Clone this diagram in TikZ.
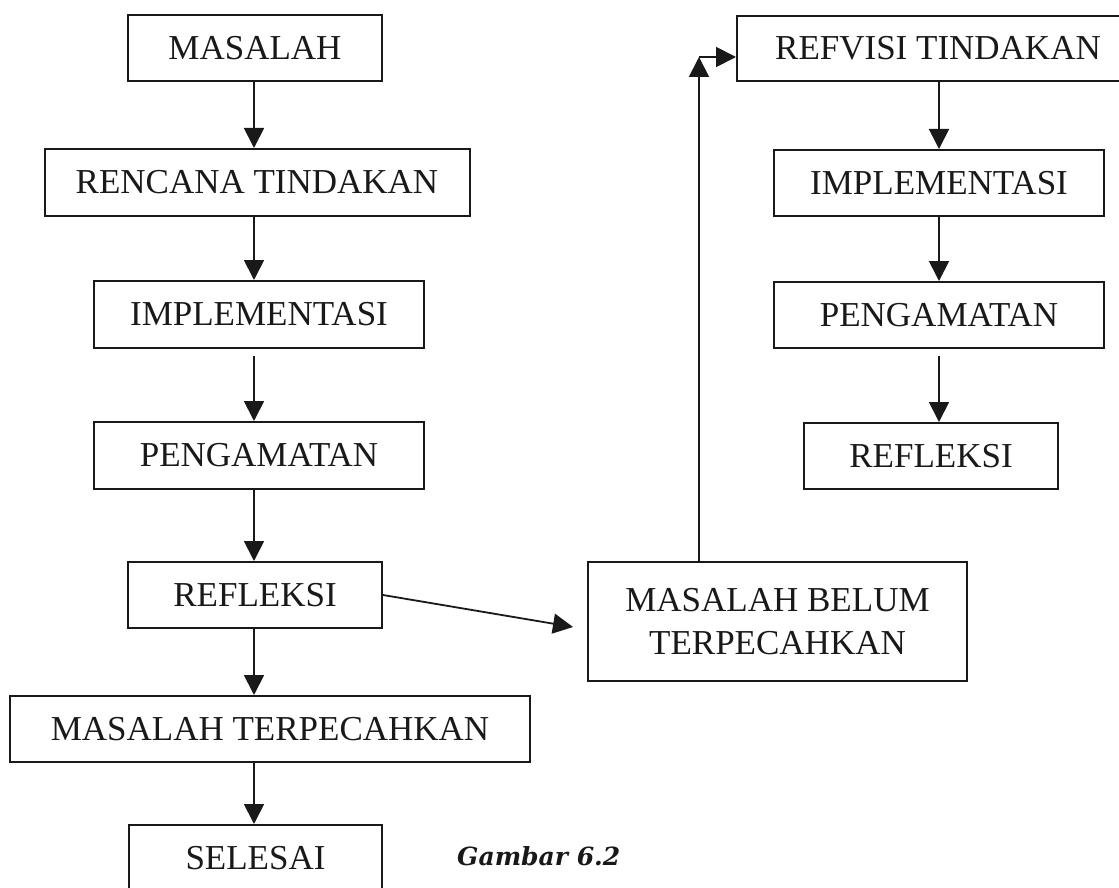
\documentclass[tikz,border=0pt]{standalone}
\usepackage{fontspec}
\setmainfont{Liberation Serif}
\newfontfamily\capfont{DejaVu Serif}
\usetikzlibrary{arrows.meta}
\tikzset{
  box/.style={draw=black!90, line width=2pt, inner sep=0pt, align=center,
              font=\fontsize{35}{43}\selectfont, text=black!90},
  arr/.style={draw=black!90, line width=1.8pt, -{Triangle[length=20pt,width=20pt]}},
}
\begin{document}
\begin{tikzpicture}[x=1pt,y=-1pt]
\clip (0,0) rectangle (1119,888);
\fill[white] (0,0) rectangle (1119,888);
% left column
\node[box, minimum width=254pt, minimum height=66pt] (m1) at (255,48) {MASALAH};
\node[box, minimum width=425pt, minimum height=67pt] (m2) at (257,182.5) {RENCANA TINDAKAN};
\node[box, minimum width=330pt, minimum height=67pt] (m3) at (259,314.5) {IMPLEMENTASI};
\node[box, minimum width=330pt, minimum height=67pt] (m4) at (259,455.5) {PENGAMATAN};
\node[box, minimum width=254pt, minimum height=66pt] (m5) at (255,595) {REFLEKSI};
\node[box, minimum width=520pt, minimum height=66pt] (m6) at (270,729) {MASALAH TERPECAHKAN};
\node[box, minimum width=253pt, minimum height=66pt] (m7) at (255.5,858) {SELESAI};
% right column
\node[box, minimum width=402pt, minimum height=65pt] (r1) at (938,48.5) {REFVISI TINDAKAN};
\node[box, minimum width=330pt, minimum height=66pt] (r2) at (939,183) {IMPLEMENTASI};
\node[box, minimum width=330pt, minimum height=66pt] (r3) at (939,315) {PENGAMATAN};
\node[box, minimum width=254pt, minimum height=66pt] (r4) at (931,456) {REFLEKSI};
\node[box, minimum width=379pt, minimum height=119pt] (mbt) at (777.5,621.5) {MASALAH BELUM\\TERPECAHKAN};
% caption
\node[anchor=base west, inner sep=0pt, text=black!90, font=\capfont\bfseries\itshape\fontsize{25}{30}\selectfont] (cap) at (457,865) {Gambar 6.2};
% helper coordinates
\coordinate (lc) at (254,0);
\coordinate (rc) at (939,0);
\coordinate (corner) at (699,57);
\coordinate (dtip) at (573,627);
% left arrows
\draw[arr] (lc |- m1.south) -- (lc |- m2.north);
\draw[arr] (lc |- m2.south) -- (lc |- m3.north);
\draw[arr, shorten <=7pt] (lc |- m3.south) -- (lc |- m4.north);
\draw[arr] (lc |- m4.south) -- (lc |- m5.north);
\draw[arr] (lc |- m5.south) -- (lc |- m6.north);
\draw[arr] (lc |- m6.south) -- (lc |- m7.north);
% right arrows
\draw[arr] (rc |- r1.south) -- (rc |- r2.north);
\draw[arr] (rc |- r2.south) -- (rc |- r3.north);
\draw[arr, shorten <=7pt] (rc |- r3.south) -- (rc |- r4.north);
% cross arrows
\draw[arr] (m5.east) -- (dtip);
\draw[arr] (corner |- mbt.north) -- (corner);
\draw[arr] (corner) -- (corner -| r1.west);
\end{tikzpicture}
\end{document}
